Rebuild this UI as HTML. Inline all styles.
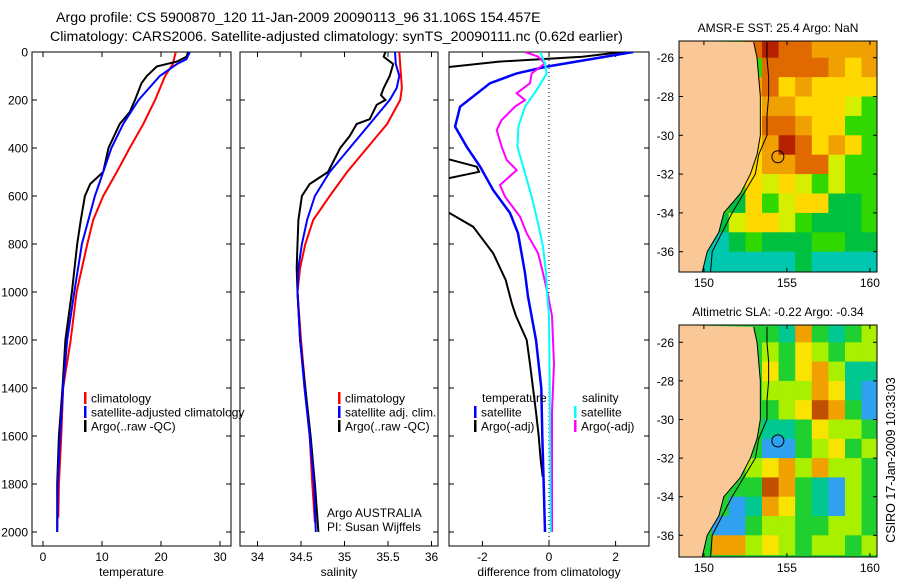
<!DOCTYPE html>
<html><head><meta charset="utf-8"><style>
html,body{margin:0;background:#fff;width:900px;height:580px;overflow:hidden}
svg{display:block;font-family:"Liberation Sans",sans-serif}
</style></head><body>
<svg id="fig" width="900" height="580" viewBox="0 0 900 580" xmlns="http://www.w3.org/2000/svg" overflow="hidden">
<defs>
<clipPath id="c1"><rect x="32" y="52" width="199" height="494"/></clipPath>
<clipPath id="c2"><rect x="240" y="52" width="198" height="494"/></clipPath>
<clipPath id="c3"><rect x="449" y="52" width="200" height="494"/></clipPath>
<clipPath id="m1"><rect x="679" y="41" width="198" height="231"/></clipPath>
<clipPath id="m2"><rect x="679" y="325" width="198" height="232"/></clipPath>
</defs>
<text x="56" y="22" font-size="14.2">Argo profile: CS 5900870_120 11-Jan-2009 20090113_96 31.106S 154.457E</text>
<text x="50" y="41" font-size="14.2">Climatology: CARS2006. Satellite-adjusted climatology: synTS_20090111.nc (0.62d earlier)</text>
<g id="plots"></g>
<g id="maps"></g>
<text font-size="12.5" transform="translate(895,460) rotate(-90)" text-anchor="middle">CSIRO 17-Jan-2009 10:33:03</text>
</svg>
<script>
// ---- profile data ----
const tempClimDepth=[0,50,100,200,300,400,500,600,700,800,1000,1200,1400,1600,1800,1940];
const tempClim=[22.5,22.0,20.7,19.0,17.0,14.7,12.5,10.2,8.5,7.5,5.7,4.7,3.4,3.1,2.7,2.6];
const tempSatDepth=[0,30,50,100,200,300,400,500,600,700,800,1000,1200,1400,1600,1800,2000];
const tempSat=[24.9,24.3,22.7,19.8,16.2,13.6,11.6,10.2,8.8,7.7,6.6,5.3,4.1,3.4,2.9,2.5,2.4];
const tempArgoDepth=[0,20,40,60,100,130,200,250,300,400,500,550,600,700,800,1000,1200,1400,1600,1800,2000];
const tempArgo=[24.6,24.3,22.7,19.3,17.6,16.7,15.6,14.7,13.0,11.1,10.2,8.0,7.1,6.4,5.8,4.9,3.8,3.3,2.7,2.4,2.4];

const salClimDepth=[0,100,150,200,300,400,500,600,700,800,900,1000,1200,1400,1600,1800,1960];
const salClim=[35.63,35.65,35.66,35.64,35.49,35.26,35.03,34.83,34.64,34.55,34.49,34.46,34.50,34.55,34.60,34.63,34.66];
const salSatDepth=[0,50,100,150,200,300,400,500,600,700,800,900,1000,1200,1400,1600,1800,2000];
const salSat=[35.58,35.59,35.63,35.60,35.52,35.29,35.06,34.83,34.66,34.57,34.51,34.47,34.46,34.49,34.54,34.60,34.65,34.67];
const salArgoDepth=[0,20,50,100,150,180,200,220,280,300,350,400,500,550,600,700,800,900,1000,1200,1400,1600,1800,2000];
const salArgo=[35.47,35.45,35.56,35.52,35.45,35.42,35.47,35.37,35.29,35.14,35.06,34.95,34.81,34.60,34.51,34.47,34.46,34.45,34.46,34.49,34.55,34.61,34.66,34.70];

const dTempSatDepth=[0,33,61,89,130,228,311,395,478,575,671,755,921,1019,1200,1400,1600,1800,2000];
const dTempSat=[2.53,1.13,-0.07,-0.97,-1.77,-2.67,-2.82,-2.47,-2.07,-1.68,-1.17,-0.93,-0.72,-0.63,-0.39,-0.23,-0.2,-0.16,-0.12];
const dTempArgoDepth=[0,20,40,70,429,478,499,540,630,728,838,950,1050,1100,1200,1300,1500,1600,1700,1770];
const dTempArgo=[2.2,1.0,-1.5,-3.5,-3.5,-2.17,-2.1,-3.5,-3.5,-2.28,-1.68,-1.3,-1.11,-0.99,-0.67,-0.57,-0.39,-0.31,-0.25,-0.19];
const dSalSatDepth=[0,47,89,158,228,311,395,505,603,713,811,921,1019,1100,1400,2000];
const dSalSat=[-0.27,-0.12,-0.07,-0.37,-0.72,-0.92,-0.95,-0.72,-0.52,-0.33,-0.18,-0.09,-0.05,0,0.02,0.05];
const dSalArgoDepth=[0,19,47,89,130,172,200,228,283,325,395,450,492,554,603,686,755,838,921,1019,1100,1300,1500,2000];
const dSalArgo=[-0.72,-0.33,-0.12,-0.52,-0.57,-0.97,-0.72,-1.02,-1.42,-1.57,-1.42,-1.27,-0.97,-1.47,-1.32,-0.87,-0.67,-0.33,-0.18,-0.02,0.09,0.15,0.09,0.09];

const depthTicks=[0,200,400,600,800,1000,1200,1400,1600,1800,2000];
const tempTicks=[0,10,20,30];
const salTicks=[34,34.5,35,35.5,36];
const salTickLabels=["34","34.5","35","35.5","36"];
const diffTicks=[-2,0,2];

// ---- map data ----
const lonTicks=[150,155,160];
const latTicks=[-26,-28,-30,-32,-34,-36];
const coastLat=[-25.2,-26,-27,-28,-29,-30,-31,-32,-33,-34,-35,-36,-37.1];
const coastLon=[153.0,153.2,153.3,153.4,153.4,153.4,153.2,152.8,152.2,151.2,150.9,150.2,149.9];
const shelfLon=[153.8,153.8,153.9,153.9,153.8,153.8,153.3,153.1,152.4,151.7,151.1,150.5,150.4];
const sstRows=[
"....OROOoooo",".....OOOOoYo","....oOYoYYYY","....YooYYYyG","....YOOoYYGG","....YoROYoYG",
"....YooOOyGG","...GYyYyGyG","...gYGyYYggG","..gyYYyGgggG",".CCgGgggGGgg","CCCCCCCgCCCC"];
const slaRows=[
"....GGTOGTGL","....GLGYLGLL","....GYGYOLTT","....GLLLOYTB","....GGLYROGB","....GTTGYLLG",
"....GBBGLYGL","....LYOLOLLG","...GGROGTBLG","..GBTOYGTBLG",".GBBGLLGGLLG",".GOOLYLGLLGL"];
const sstColors={R:"#b42000",O:"#e06a00",o:"#f0a000",Y:"#ffd800",y:"#d4f000",G:"#30d800",g:"#00c040",C:"#00c8b0",B:"#10b0f0"};
const slaColors={R:"#c05000",O:"#f0a000",Y:"#f8e400",L:"#a8f000",G:"#20d030",T:"#00c890",B:"#30a0f0"};
const argoLon=154.457, argoLat=-31.106;

const NS="http://www.w3.org/2000/svg";
function mk(tag,attrs,parent){const e=document.createElementNS(NS,tag);for(const k in attrs)e.setAttribute(k,attrs[k]);parent.appendChild(e);return e;}
const plots=document.getElementById('plots');
const depthY=d=>52+d*0.24;

function panel(name,x0,x1,xs,ticks,labels,title,clip){
  const g=mk('g',{},plots);
  
  
  const fr=mk('rect',{x:x0,y:52,width:x1-x0,height:494,fill:'none',stroke:'#000','stroke-width':1},g);
  
  
  depthTicks.forEach(d=>{
    const y=depthY(d);
    mk('line',{x1:x0,x2:x0+5,y1:y,y2:y,stroke:'#000'},g);
    mk('line',{x1:x1-5,x2:x1,y1:y,y2:y,stroke:'#000'},g);
  });
  ticks.forEach((t,i)=>{
    const x=xs(t);
    mk('line',{x1:x,x2:x,y1:546,y2:541,stroke:'#000'},g);
    mk('line',{x1:x,x2:x,y1:52,y2:57,stroke:'#000'},g);
    const tl=mk('text',{x:x,y:561,'font-size':12,'text-anchor':'middle'},g);
    
    
    tl.textContent=labels[i];
  });
  const at=mk('text',{x:(x0+x1)/2,y:576,'font-size':12,'text-anchor':'middle'},g);
  
  
  at.textContent=title;
  return g;
}
function line(g,xs,vals,depths,color,w,clip,name){
  const p=mk('polyline',{points:vals.map((v,i)=>xs(v).toFixed(1)+','+depthY(depths[i]).toFixed(1)).join(' '),fill:'none',stroke:color,'stroke-width':w,'clip-path':'url(#'+clip+')'},g);
  
  
}
function legend(g,x,y,color,label,name){
  const b=mk('rect',{x:x,y:y-6,width:2.5,height:12,fill:color},g);
  
  
  const t=mk('text',{x:x+7,y:y+4.5,'font-size':12},g);
  
  
  t.textContent=label;
}
depthTicks.forEach(d=>{
  const t=mk('text',{x:28,y:depthY(d)+4.5,'font-size':12,'text-anchor':'end'},plots);
  
  
  t.textContent=d;
});
const tx=v=>43+v*5.9;
const g1=panel('temperature-panel',32,231,tx,tempTicks,tempTicks.map(String),'temperature','c1');
line(g1,tx,tempClim,tempClimDepth,'#ff0000',2,'c1','temp-climatology-line');
line(g1,tx,tempArgo,tempArgoDepth,'#000',2,'c1','temp-argo-line');
line(g1,tx,tempSat,tempSatDepth,'#0000ff',2,'c1','temp-satellite-line');
legend(g1,84,398,'#ff0000','climatology','legend-climatology');
legend(g1,84,412,'#0000ff','satellite-adjusted climatology','legend-satellite-adjusted');
legend(g1,84,426,'#000','Argo(..raw -QC)','legend-argo');
const sx=v=>257.5+(v-34)*87;
const g2=panel('salinity-panel',240,438,sx,salTicks,salTickLabels,'salinity','c2');
line(g2,sx,salClim,salClimDepth,'#ff0000',2,'c2','sal-climatology-line');
line(g2,sx,salArgo,salArgoDepth,'#000',2,'c2','sal-argo-line');
line(g2,sx,salSat,salSatDepth,'#0000ff',2,'c2','sal-satellite-line');
legend(g2,338,398,'#ff0000','climatology','legend-sal-climatology');
legend(g2,338,412,'#0000ff','satellite adj. clim.','legend-sal-satellite');
legend(g2,338,426,'#000','Argo(..raw -QC)','legend-sal-argo');
[['Argo AUSTRALIA',517],['PI: Susan Wijffels',531]].forEach(a=>{
  const t=mk('text',{x:327,y:a[1],'font-size':12},g2);
  
  
  t.textContent=a[0];
});
const dx=v=>549+v*33.3;
const g3=panel('difference-panel',449,649,dx,diffTicks,diffTicks.map(String),'difference from climatology','c3');
const zl=mk('line',{x1:dx(0),x2:dx(0),y1:52,y2:546,stroke:'#000','stroke-dasharray':'1,3'},g3);


line(g3,dx,dTempArgo,dTempArgoDepth,'#000',2,'c3','diff-temp-argo-line');
line(g3,dx,dTempSat,dTempSatDepth,'#0000ff',2.5,'c3','diff-temp-satellite-line');
line(g3,dx,dSalArgo,dSalArgoDepth,'#ff00ff',2,'c3','diff-sal-argo-line');
line(g3,dx,dSalSat,dSalSatDepth,'#00ffff',2,'c3','diff-sal-satellite-line');
[['temperature',482],['salinity',582]].forEach(a=>{
  const t=mk('text',{x:a[1],y:402,'font-size':12},g3);
  
  
  t.textContent=a[0];
});
legend(g3,474,412,'#0000ff','satellite','legend-diff-temp-satellite');
legend(g3,474,426,'#000','Argo(-adj)','legend-diff-temp-argo');
legend(g3,574,412,'#00ffff','satellite','legend-diff-sal-satellite');
legend(g3,574,426,'#ff00ff','Argo(-adj)','legend-diff-sal-argo');

// ---- maps ----
const maps=document.getElementById('maps');
function drawMap(name,y0,h,latTop,latBot,rows,colors,clip,title,markerFill){
  const g=mk('g',{},maps);
  
  
  const lx=l=>679+(l-148.5)*16.6;
  const ly=l=>latTop+(-26-l)*((latBot-latTop)/10);
  const cg=mk('g',{'clip-path':'url(#'+clip+')'},g);
  mk('rect',{x:679,y:y0,width:198,height:h,fill:colors.G},cg);
  rows.forEach((r,ri)=>{
    for(let ci=0;ci<r.length;ci++){
      const c=r[ci]; if(!colors[c]) continue;
      const la=-25-ri, lo=148.5+ci;
      const top=Math.max(ly(la),y0), bot=Math.min(ly(la-1)+0.5,y0+h);
      const cell=mk('rect',{x:lx(lo),y:top,width:16.8,height:Math.max(0,bot-top),fill:colors[c]},cg);
      
      
    }
  });
  const pts=coastLon.map((l,i)=>lx(l)+','+Math.min(Math.max(ly(coastLat[i]),y0),y0+h)).join(' ');
  const land=mk('polygon',{points:pts+' 679,'+(y0+h)+' 679,'+y0,fill:'#fac896'},cg);
  
  
  const cl=mk('polyline',{points:pts,fill:'none',stroke:'#000','stroke-width':1},cg);
  
  
  const sl=mk('polyline',{points:shelfLon.map((l,i)=>lx(l)+','+Math.min(Math.max(ly(coastLat[i]),y0),y0+h)).join(' '),fill:'none',stroke:'#000','stroke-width':1},cg);
  
  
  const mkr=mk('circle',{cx:lx(argoLon),cy:ly(argoLat),r:6,fill:markerFill,stroke:'#000','stroke-width':1},g);
  
  
  const fr=mk('rect',{x:679,y:y0,width:198,height:h,fill:'none',stroke:'#000'},g);
  
  
  const yb=y0+h;
  lonTicks.forEach(l=>{
    const x=lx(l);
    mk('line',{x1:x,x2:x,y1:yb,y2:yb-4,stroke:'#000'},g);
    mk('line',{x1:x,x2:x,y1:y0,y2:y0+4,stroke:'#000'},g);
    const t=mk('text',{x:x,y:yb+15,'font-size':12,'text-anchor':'middle'},g);
    
    
    t.textContent=l;
  });
  latTicks.forEach(l=>{
    const y=ly(l);
    mk('line',{x1:679,x2:683,y1:y,y2:y,stroke:'#000'},g);
    mk('line',{x1:873,x2:877,y1:y,y2:y,stroke:'#000'},g);
    const t=mk('text',{x:674,y:y+4.5,'font-size':12,'text-anchor':'end'},g);
    
    
    t.textContent=l;
  });
  const tt=mk('text',{x:778,y:y0-9,'font-size':12,'text-anchor':'middle'},g);
  
  
  tt.textContent=title;
}
drawMap('sst-map',41,231,57.7,251.7,sstRows,sstColors,'m1','AMSR-E SST: 25.4  Argo: NaN','none');
drawMap('sla-map',325,232,342.3,535.3,slaRows,slaColors,'m2','Altimetric SLA: -0.22  Argo: -0.34','#30a0f0');
</script>
</body></html>
